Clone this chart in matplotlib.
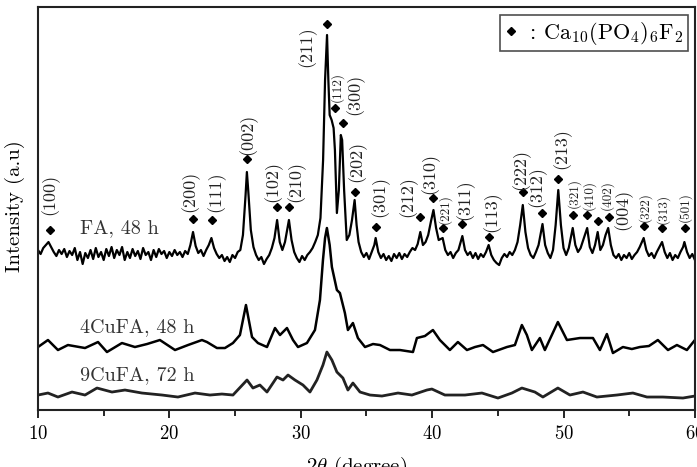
import numpy as np
import matplotlib
matplotlib.use("Agg")
import matplotlib.pyplot as plt
from matplotlib.lines import Line2D

plt.rcParams['font.family'] = ['cmr10', 'DejaVu Serif']
plt.rcParams['mathtext.fontset'] = 'cm'
plt.rcParams['axes.formatter.use_mathtext'] = True

# FA, 48 h  (2theta, intensity a.u.)
fa_pts = [
    (10.0, 160), (10.2, 156), (10.4, 162), (10.6, 165), (10.8, 168), (11.0, 163), (11.2, 158),
    (11.4, 154), (11.6, 160), (11.8, 156), (12.0, 161), (12.2, 153), (12.4, 159), (12.6, 155),
    (12.8, 162), (13.0, 150), (13.2, 158), (13.4, 146), (13.6, 157), (13.8, 152), (14.0, 160),
    (14.2, 151), (14.4, 162), (14.6, 153), (14.8, 158), (15.0, 150), (15.2, 161), (15.4, 154),
    (15.6, 163), (15.8, 152), (16.0, 160), (16.2, 155), (16.4, 163), (16.6, 150), (16.8, 158),
    (17.0, 152), (17.2, 161), (17.4, 154), (17.6, 159), (17.8, 151), (18.0, 162), (18.2, 155),
    (18.4, 158), (18.6, 150), (18.8, 160), (19.0, 153), (19.2, 161), (19.4, 156), (19.6, 159),
    (19.8, 152), (20.0, 158), (20.2, 154), (20.4, 160), (20.6, 155), (20.8, 158), (21.0, 153),
    (21.2, 159), (21.4, 156), (21.6, 165), (21.8, 178), (22.0, 164), (22.2, 157), (22.4, 160),
    (22.6, 154), (22.8, 160), (23.0, 165), (23.2, 172), (23.4, 162), (23.6, 156), (23.8, 152),
    (24.0, 155), (24.2, 149), (24.4, 153), (24.6, 148), (24.8, 155), (25.0, 152), (25.2, 158),
    (25.4, 160), (25.6, 175), (25.8, 215), (25.9, 238), (26.0, 220), (26.2, 180), (26.4, 163),
    (26.6, 155), (26.8, 150), (27.0, 153), (27.2, 146), (27.4, 151), (27.6, 155), (27.8, 162),
    (28.0, 172), (28.2, 190), (28.4, 168), (28.6, 160), (28.8, 168), (29.1, 190), (29.3, 170),
    (29.5, 158), (29.7, 152), (29.9, 148), (30.1, 154), (30.3, 150), (30.5, 155), (30.7, 158),
    (30.9, 162), (31.1, 168), (31.3, 175), (31.5, 192), (31.7, 250), (31.85, 330), (32.0, 375),
    (32.1, 330), (32.2, 295), (32.35, 290), (32.5, 282), (32.6, 260), (32.75, 197), (32.9, 220),
    (33.05, 275), (33.15, 270), (33.3, 220), (33.5, 170), (33.7, 175), (33.9, 190), (34.1, 210),
    (34.25, 185), (34.4, 168), (34.6, 158), (34.8, 153), (35.0, 157), (35.2, 151), (35.4, 158),
    (35.6, 165), (35.7, 172), (35.9, 158), (36.1, 152), (36.3, 156), (36.5, 150), (36.7, 154),
    (36.9, 149), (37.1, 156), (37.3, 152), (37.5, 157), (37.7, 151), (37.9, 156), (38.1, 153),
    (38.3, 158), (38.5, 162), (38.7, 160), (38.9, 166), (39.1, 178), (39.3, 165), (39.5, 168),
    (39.7, 175), (39.9, 188), (40.1, 200), (40.3, 182), (40.5, 170), (40.8, 172), (41.0, 160),
    (41.2, 155), (41.4, 158), (41.6, 152), (41.8, 157), (42.0, 160), (42.3, 174), (42.5, 160),
    (42.7, 155), (42.9, 158), (43.1, 152), (43.3, 157), (43.5, 151), (43.7, 156), (43.9, 153),
    (44.1, 158), (44.3, 165), (44.5, 155), (44.7, 150), (44.9, 147), (45.1, 145), (45.3, 152),
    (45.5, 156), (45.7, 153), (45.9, 158), (46.1, 155), (46.3, 160), (46.5, 168), (46.7, 185),
    (46.9, 205), (47.1, 178), (47.3, 162), (47.5, 155), (47.7, 152), (47.9, 158), (48.1, 165),
    (48.4, 186), (48.6, 165), (48.8, 157), (49.0, 152), (49.2, 160), (49.4, 185), (49.6, 220),
    (49.8, 185), (50.0, 162), (50.2, 155), (50.4, 162), (50.7, 182), (50.9, 165), (51.1, 158),
    (51.3, 162), (51.5, 170), (51.8, 182), (52.0, 163), (52.2, 157), (52.4, 165), (52.6, 178),
    (52.8, 160), (53.0, 165), (53.2, 175), (53.4, 182), (53.6, 165), (53.8, 155), (54.0, 152),
    (54.2, 156), (54.4, 150), (54.6, 155), (54.8, 152), (55.0, 157), (55.2, 151), (55.4, 155),
    (55.6, 158), (55.8, 163), (56.1, 172), (56.3, 160), (56.5, 154), (56.7, 157), (56.9, 152),
    (57.1, 158), (57.3, 163), (57.5, 168), (57.7, 158), (57.9, 152), (58.1, 157), (58.3, 150),
    (58.5, 155), (58.7, 152), (58.9, 158), (59.1, 163), (59.2, 168), (59.4, 158), (59.6, 152),
    (59.8, 156), (60.0, 150),
]

# 4CuFA, 48 h
cu4_pts = [
    (10.0, 63), (10.76, 70), (11.52, 60), (12.28, 65), (13.58, 62), (14.57, 68), (15.25, 58),
    (16.39, 67), (17.38, 63), (18.3, 66), (19.28, 70), (20.43, 60), (21.42, 65), (22.48, 70),
    (22.86, 68), (23.62, 62), (24.23, 62), (24.84, 67), (25.37, 75), (25.83, 105), (26.29, 73),
    (26.74, 67), (27.43, 63), (28.04, 82), (28.42, 75), (28.95, 82), (29.41, 70), (29.79, 63),
    (30.47, 67), (31.08, 80), (31.46, 110), (31.69, 150), (31.85, 172), (31.99, 182), (32.2, 165),
    (32.37, 143), (32.75, 120), (32.98, 117), (33.36, 97), (33.59, 80), (33.97, 87), (34.35, 72),
    (34.89, 63), (35.5, 66), (36.03, 65), (36.79, 60), (37.55, 60), (38.54, 58), (38.84, 72),
    (39.45, 74), (40.06, 80), (40.59, 70), (41.35, 60), (41.96, 68), (42.65, 60), (43.26, 63),
    (43.87, 65), (44.63, 58), (45.69, 63), (46.30, 65), (46.83, 85), (47.21, 75), (47.59, 60),
    (48.20, 72), (48.58, 60), (49.57, 88), (50.26, 70), (51.25, 72), (52.24, 72), (52.77, 60),
    (53.30, 76), (53.76, 57), (54.52, 63), (55.2, 61), (55.81, 63), (56.5, 64), (57.18, 70),
    (57.95, 60), (58.63, 65), (59.39, 60), (60.0, 70),
]

# 9CuFA, 72 h
cu9_pts = [
    (10.0, 15), (10.76, 17), (11.52, 13), (12.59, 18), (13.58, 15), (14.49, 22), (15.63, 18),
    (16.62, 20), (17.91, 17), (19.44, 15), (20.65, 13), (21.95, 17), (23.09, 15), (24.0, 16),
    (24.84, 15), (25.91, 30), (26.36, 22), (26.89, 25), (27.43, 18), (28.19, 33), (28.65, 30),
    (29.03, 35), (29.56, 30), (30.17, 25), (30.70, 18), (31.23, 30), (31.69, 45), (31.99, 58),
    (32.37, 50), (32.75, 38), (33.21, 32), (33.59, 20), (33.97, 27), (34.51, 18), (35.27, 15),
    (36.18, 14), (37.40, 17), (38.46, 15), (39.60, 20), (39.98, 21), (40.97, 15), (42.50, 15),
    (43.79, 17), (45.01, 12), (46.07, 17), (46.83, 22), (47.82, 18), (48.43, 13), (49.57, 22),
    (50.49, 15), (51.48, 18), (52.54, 13), (54.06, 15), (55.28, 17), (56.35, 13), (57.56, 13),
    (59.09, 12), (60.0, 14),
]

# diamond markers for Ca10(PO4)6F2 reflections
mark_2theta = [10.91, 21.80, 23.24, 25.91, 28.19, 29.10, 31.99, 32.60, 33.21, 34.12, 35.72,
               39.07, 40.06, 40.82, 42.27, 44.32, 46.91, 48.36, 49.57, 50.72, 51.78, 52.62,
               53.46, 56.12, 57.49, 59.24]
mark_int = [180, 191, 190, 251, 203, 203, 386, 302, 287, 218, 183, 193, 212, 182, 186, 173,
            218, 197, 231, 195, 195, 189, 193, 184, 182, 182]

# (hkl) labels: text, 2theta, start height
hkl_text = ['(100)', '(200)', '(111)', '(002)', '(102)', '(210)', '(211)', '(112)', '(300)',
            '(202)', '(301)', '(212)', '(310)', '(221)', '(311)', '(113)', '(222)', '(312)',
            '(213)', '(321)', '(410)', '(402)', '(004)', '(322)', '(313)', '(501)']
hkl_2theta = [10.91, 21.57, 23.55, 25.98, 27.88, 29.63, 30.47, 32.75, 34.12, 34.28, 36.03,
              38.16, 39.83, 40.97, 42.50, 44.55, 46.76, 47.98, 49.88, 50.80, 51.95, 53.30,
              54.50, 56.19, 57.56, 59.24]
hkl_int = [195, 198, 198, 255, 208, 208, 343, 308, 295, 228, 193, 193, 216, 186, 190, 178,
           220, 203, 241, 202, 200, 200, 180, 188, 186, 188]
hkl_small = ['(112)', '(221)', '(321)', '(410)', '(402)', '(322)', '(313)', '(501)']

series_names = ['FA, 48 h', '4CuFA, 48 h', '9CuFA, 72 h']


def main():
    fig = plt.figure(figsize=(6.97, 4.67), dpi=100)
    ax = fig.add_axes([0.0545, 0.122, 0.9425, 0.863])

    fa = np.array(fa_pts)
    cu4 = np.array(cu4_pts)
    cu9 = np.array(cu9_pts)

    ax.plot(fa[:, 0], fa[:, 1], color='black', lw=1.6)
    ax.plot(cu4[:, 0], cu4[:, 1], color='black', lw=1.8)
    ax.plot(cu9[:, 0], cu9[:, 1], color='#222222', lw=2.0)

    ax.plot(mark_2theta, mark_int, 'D', color='black', ms=4.5, ls='none')

    for t, x, y in zip(hkl_text, hkl_2theta, hkl_int):
        fs = 9.5 if t in hkl_small else 13
        ax.text(x, y, t, rotation=90, ha='center', va='bottom', fontsize=fs, color='#222222')

    for name, y in zip(series_names, [182, 83, 35]):
        ax.text(13.2, y, name, ha='left', va='center', fontsize=14.5, color='#333333')

    handle = Line2D([], [], marker='D', color='black', ls='none', ms=4.5)
    leg = ax.legend([handle], [r'$\mathbf{:}\,\mathrm{Ca_{10}(PO_4)_6F_2}$'],
                    loc='upper right', bbox_to_anchor=(0.989, 0.98), fontsize=16,
                    frameon=True, fancybox=False, handlelength=0.6, handletextpad=0.4,
                    borderpad=0.2, borderaxespad=0)
    leg.get_frame().set_edgecolor('#222222')
    leg.get_frame().set_linewidth(1.2)

    ax.set_xlim(10, 60)
    ax.set_ylim(0, 403)
    ax.set_xticks([10, 20, 30, 40, 50, 60])
    ax.set_xticks([15, 25, 35, 45, 55], minor=True)
    ax.set_yticks([])
    ax.tick_params(axis='x', which='major', direction='out', length=6, width=1.2,
                   labelsize=13.5, pad=5)
    ax.tick_params(axis='x', which='minor', direction='out', length=4, width=1.2)
    for s in ax.spines.values():
        s.set_linewidth(1.5)
        s.set_color('#222222')

    fig.text(0.512, 0.026, r'$2\theta$ (degree)', ha='center', va='top', fontsize=15)
    fig.text(15 / 697, 1 - 206 / 467, 'Intensity (a.u)', rotation=90, ha='center',
             va='center', fontsize=15)

    fig.savefig('out.png', dpi=100)


if __name__ == "__main__":
    main()
